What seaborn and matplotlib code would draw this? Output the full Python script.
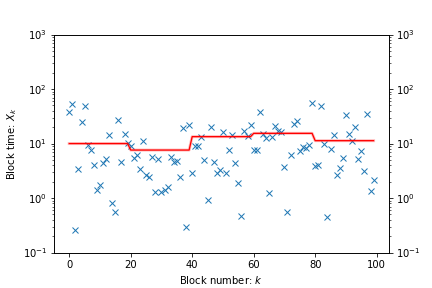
import matplotlib
matplotlib.use("Agg")
import matplotlib.pyplot as plt
import seaborn as sns
import pandas as pd
import numpy as np

block_times = [
    38.1, 54.1, 0.258, 3.41, 24.9, 49.1, 9.27, 7.63, 4.04, 1.40,
    1.76, 4.46, 5.28, 14.4, 0.81, 0.553, 27.5, 4.59, 15.0, 10.3,
    8.88, 5.44, 6.25, 3.46, 11.3, 2.60, 2.43, 5.74, 1.31, 5.28,
    1.28, 1.42, 1.59, 5.74, 4.65, 4.85, 2.46, 19.4, 0.293, 21.6,
    2.88, 8.88, 8.88, 13.2, 5.0, 0.92, 20.2, 4.51, 2.92, 3.27,
    16.3, 2.92, 7.63, 14.6, 4.40, 1.89, 0.467, 17.3, 13.6, 21.6,
    7.73, 7.73, 38.1, 15.2, 12.7, 1.24, 13.0, 20.9, 17.3, 16.3,
    3.76, 0.56, 6.25, 22.9, 26.4, 7.40, 8.51, 8.30, 9.55, 55.8,
    3.81, 4.10, 49.1, 9.84, 0.448, 8.06, 14.4, 2.60, 3.56, 5.44,
    33.6, 15.0, 11.3, 20.2, 5.28, 7.40, 3.14, 35.0, 1.36, 2.14,
]

# Level of the red line in each window of 20 blocks
window_levels = [10.0, 7.6, 13.4, 15.4, 11.3]
window_size = 20

df = pd.DataFrame({"k": np.arange(len(block_times)), "X": block_times})
df["level"] = np.repeat(window_levels, window_size)

fig, ax = plt.subplots(figsize=(6, 4), dpi=72)
fig.subplots_adjust(left=0.125, right=0.9, bottom=0.123, top=0.88)

sns.scatterplot(data=df, x="k", y="X", marker="x", color="C0", s=36,
                linewidth=1, ax=ax, zorder=2)
sns.lineplot(data=df, x="k", y="level", color="red", lw=3, alpha=0.25,
             ax=ax, zorder=3)
sns.lineplot(data=df, x="k", y="level", color="red", lw=1.3, ax=ax, zorder=4)

ax.set_yscale("log")
ax.set_ylim(0.1, 1000)
ax.set_xlabel("Block number: $k$")
ax.set_ylabel("Block time: $X_k$")

ax2 = ax.twinx()
ax2.set_yscale("log")
ax2.set_ylim(ax.get_ylim())

fig.savefig("out.png", dpi=72)
